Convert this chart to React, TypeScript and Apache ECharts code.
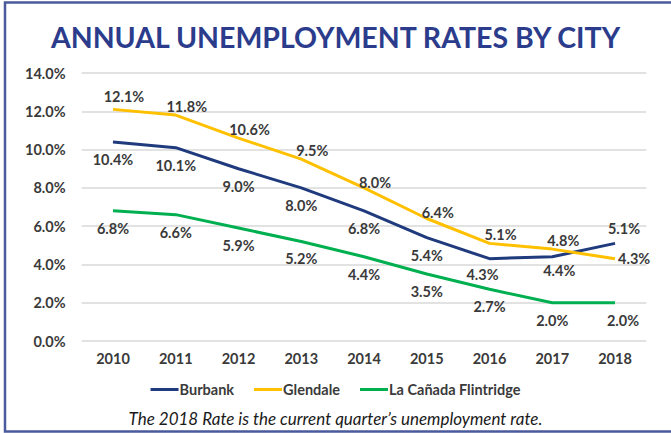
import React, { useEffect, useRef } from "react";
import * as echarts from "echarts";

const years = ["2010", "2011", "2012", "2013", "2014", "2015", "2016", "2017", "2018"];
const burbank = [10.4, 10.1, 9.0, 8.0, 6.8, 5.4, 4.3, 4.4, 5.1];
const glendale = [12.1, 11.8, 10.6, 9.5, 8.0, 6.4, 5.1, 4.8, 4.3];
const lacanada = [6.8, 6.6, 5.9, 5.2, 4.4, 3.5, 2.7, 2.0, 2.0];
const seriesNames = ["Burbank", "Glendale", "La Cañada Flintridge"];
const title = "ANNUAL UNEMPLOYMENT RATES BY CITY";
const footnote = "The 2018 Rate is the current quarter\u2019s unemployment rate.";

const FONT = "Lato, 'Open Sans', sans-serif";
const LABEL_COLOR = "#3a3a3a";
const FS = 14.5;

export default function App() {
  const ref = useRef<HTMLDivElement>(null);
  useEffect(() => {
    if (!ref.current) return;
    const chart = echarts.init(ref.current, null, { renderer: "svg" });
    const fmt = (p: any) => Number(p.value).toFixed(1) + "%";
    const baseLabel = {
      show: true,
      formatter: fmt,
      fontFamily: FONT,
      fontWeight: "bold" as const,
      fontSize: FS,
      color: LABEL_COLOR,
    };
    const burbankData = burbank.map((v, i) => {
      if (i === burbank.length - 1)
        return { value: v, label: { position: "top", distance: 7, offset: [9, 0] } };
      if (i === 6) return { value: v, label: { offset: [-7, -2] } };
      if (i === 7) return { value: v, label: { offset: [7, -4] } };
      return v;
    });
    const glendaleData = glendale.map((v, i) => {
      if (i === glendale.length - 1)
        return { value: v, label: { position: "right", distance: 3, offset: [0, 0] } };
      if (i === 0) return { value: v, label: { distance: 5 } };
      if (i === 4 || i === 5) return { value: v, label: { distance: -2 } };
      return v;
    });
    const lacanadaData = lacanada.map((v, i) => {
      if (i === lacanada.length - 1) return { value: v, label: { offset: [8, 0] } };
      return v;
    });
    const sym = { symbol: "circle", symbolSize: 0, showSymbol: true };
    chart.setOption({
      animation: false,
      backgroundColor: "#ffffff",
      title: {
        text: title,
        left: "center",
        top: 17,
        textStyle: {
          fontFamily: FONT,
          fontWeight: "bold",
          fontSize: 28.5,
          color: "#2b3c8c",
        },
      },
      grid: { left: 81.6, right: 24.6, top: 73, bottom: 92 },
      xAxis: {
        type: "category",
        data: years,
        boundaryGap: true,
        axisLine: { show: false },
        axisTick: { show: false },
        axisLabel: {
          margin: 10,
          fontFamily: FONT,
          fontWeight: "bold",
          fontSize: FS,
          color: LABEL_COLOR,
        },
      },
      yAxis: {
        type: "value",
        min: 0,
        max: 14,
        interval: 2,
        axisLine: { show: false },
        axisTick: { show: false },
        splitLine: { lineStyle: { color: "#d9d9d9", width: 1.5 } },
        axisLabel: {
          margin: 16,
          fontFamily: FONT,
          fontWeight: "bold",
          fontSize: FS,
          color: LABEL_COLOR,
          formatter: (v: number) => v.toFixed(1) + "%",
        },
      },
      legend: {
        data: seriesNames,
        left: "center",
        top: 377,
        icon: "rect",
        itemWidth: 28,
        itemHeight: 3,
        itemGap: 20,
        textStyle: {
          fontFamily: FONT,
          fontWeight: "bold",
          fontSize: 14.5,
          color: LABEL_COLOR,
          padding: [0, 0, 0, -4],
        },
      },
      series: [
        {
          name: seriesNames[0],
          type: "line",
          data: burbankData,
          ...sym,
          color: "#1f3a7d",
          lineStyle: { width: 3, color: "#1f3a7d" },
          label: { ...baseLabel, position: "bottom", distance: 10 },
        },
        {
          name: seriesNames[1],
          type: "line",
          data: glendaleData,
          ...sym,
          color: "#ffc000",
          lineStyle: { width: 3, color: "#ffc000" },
          label: { ...baseLabel, position: "top", distance: 1, offset: [11, 0] },
        },
        {
          name: seriesNames[2],
          type: "line",
          data: lacanadaData,
          ...sym,
          color: "#00b050",
          lineStyle: { width: 3, color: "#00b050" },
          label: { ...baseLabel, position: "bottom", distance: 10 },
        },
      ],
      graphic: [
        {
          type: "rect",
          shape: { x: 5, y: 2.5, width: 700, height: 429 },
          style: { fill: "none", stroke: "#4a5a9c", lineWidth: 2.5 },
          silent: true,
        },
        {
          type: "text",
          left: "center",
          top: 410,
          style: {
            text: footnote,
            font: "italic 17px " + FONT,
            fill: "#1a1a1a",
          },
        },
      ],
    });
    return () => chart.dispose();
  }, []);
  return (
    <div
      ref={ref}
      style={{ position: "fixed", left: 0, top: 0, width: 671, height: 433 }}
    />
  );
}
